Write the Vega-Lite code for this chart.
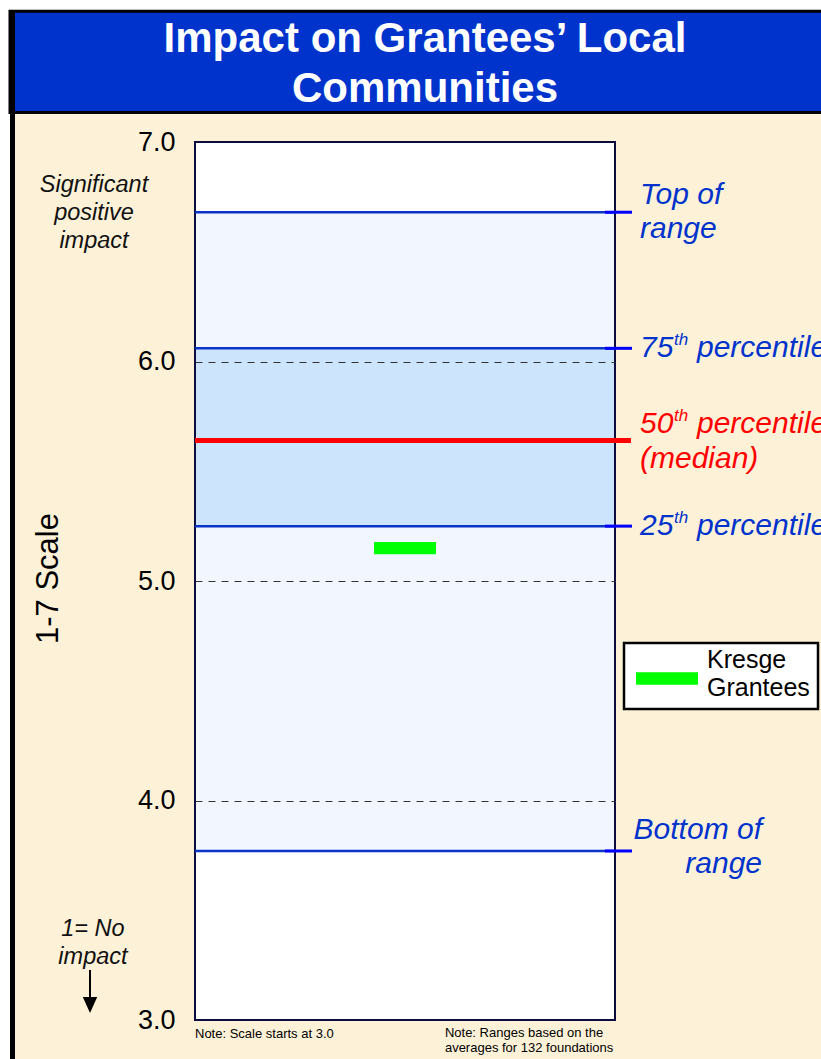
{
  "$schema": "https://vega.github.io/schema/vega-lite/v6.json",
  "width": 420,
  "height": 878,
  "autosize": "none",
  "padding": {"left": 195, "top": 142, "right": 206, "bottom": 39},
  "background": "white",
  "config": {
    "font": "Liberation Sans",
    "view": {"stroke": null},
    "legend": {"strokeWidth": 2.5}
  },
  "title": {
    "text": ["Impact on Grantees’ Local", "Communities"],
    "color": "white",
    "fontSize": 42,
    "fontWeight": "bold",
    "lineHeight": 50,
    "anchor": "middle",
    "frame": "group",
    "baseline": "alphabetic",
    "offset": 0,
    "dy": 136,
    "dx": 20
  },
  "datasets": {
    "lines": [
      {"stat": "top", "name": "Top of range", "value": 6.68, "label": "Top of|range"},
      {"stat": "p75", "name": "75th percentile", "value": 6.06, "num": "75", "sup": "th", "word": "percentile"},
      {"stat": "median", "name": "50th percentile (median)", "value": 5.64, "num": "50", "sup": "th", "word": "percentile", "note": "(median)"},
      {"stat": "p25", "name": "25th percentile", "value": 5.25, "num": "25", "sup": "th", "word": "percentile"},
      {"stat": "bottom", "name": "Bottom of range", "value": 3.77, "label": "Bottom of|range"}
    ],
    "bands": [
      {"band": "Range", "low": 3.77, "high": 6.68},
      {"band": "Interquartile", "low": 5.25, "high": 6.06}
    ],
    "kresge": [
      {"group": "Kresge Grantees", "score": 5.15}
    ]
  },
  "layer": [
    {
      "data": {"values": [{"part": "slide"}]},
      "mark": {"type": "rect", "fill": "#fdf2d8"},
      "encoding": {
        "x": {"datum": -0.4405, "type": "quantitative", "scale": {"domain": [0, 1], "nice": false, "zero": false}, "axis": null},
        "x2": {"datum": 1.6},
        "y": {"datum": 7.6, "type": "quantitative", "scale": {"domain": [3, 7], "nice": false, "zero": false},
          "axis": {
            "values": [3, 4, 5, 6, 7],
            "format": ".1f",
            "labelFontSize": 27,
            "labelColor": "black",
            "labelPadding": 20,
            "ticks": false,
            "domain": false,
            "grid": true,
            "gridColor": "#333333",
            "gridDash": [7, 6],
            "gridWidth": 1,
            "gridOpacity": {"condition": {"test": "datum.value === 3 || datum.value === 7", "value": 0}, "value": 1},
            "zindex": 1,
            "title": "1-7 Scale",
            "titleFontSize": 31,
            "titleFontWeight": "normal",
            "titleColor": "black",
            "titleAngle": 270,
            "titleAlign": "center",
            "titleBaseline": "middle",
            "titleX": -147,
            "titleY": 436
          }
        },
        "y2": {"datum": 2.7}
      }
    },
    {
      "data": {"values": [{"part": "header"}]},
      "mark": {"type": "rect", "fill": "#0033cc", "stroke": "black", "strokeWidth": 3},
      "encoding": {
        "x": {"datum": -0.4405, "type": "quantitative"},
        "x2": {"datum": 1.6},
        "y": {"datum": 7.596, "type": "quantitative"},
        "y2": {"datum": 7.134}
      }
    },
    {
      "data": {"values": [{"part": "left border"}]},
      "mark": {"type": "rule", "color": "black", "strokeWidth": 5},
      "encoding": {
        "x": {"datum": -0.4345, "type": "quantitative"},
        "y": {"datum": 7.6, "type": "quantitative"},
        "y2": {"datum": 2.7}
      }
    },
    {
      "data": {"values": [{"part": "plot"}]},
      "mark": {"type": "rect", "fill": "white"},
      "encoding": {
        "x": {"datum": 0, "type": "quantitative"},
        "x2": {"datum": 1},
        "y": {"datum": 3, "type": "quantitative"},
        "y2": {"datum": 7}
      }
    },
    {
      "data": {"name": "bands"},
      "mark": {"type": "rect"},
      "encoding": {
        "x": {"datum": 0, "type": "quantitative"},
        "x2": {"datum": 1},
        "y": {"field": "low", "type": "quantitative"},
        "y2": {"field": "high"},
        "fill": {"condition": {"test": "datum.band === 'Range'", "value": "#f2f7ff"}, "value": "#cce4fc"}
      }
    },
    {
      "data": {"values": [{"part": "frame"}]},
      "mark": {"type": "rect", "fillOpacity": 0, "stroke": "#0b0b40", "strokeWidth": 2},
      "encoding": {
        "x": {"datum": 0, "type": "quantitative"},
        "x2": {"datum": 1},
        "y": {"datum": 3, "type": "quantitative"},
        "y2": {"datum": 7}
      }
    },
    {
      "data": {"name": "lines"},
      "transform": [{"filter": "datum.stat !== 'median'"}],
      "mark": {"type": "rule", "color": "#0a33c8", "strokeWidth": 2.5},
      "encoding": {
        "x": {"datum": 0, "type": "quantitative"},
        "x2": {"datum": 1},
        "y": {"field": "value", "type": "quantitative"}
      }
    },
    {
      "data": {"name": "lines"},
      "transform": [{"filter": "datum.stat !== 'median'"}],
      "mark": {"type": "rule", "color": "#0000ff", "strokeWidth": 3},
      "encoding": {
        "x": {"datum": 0.976, "type": "quantitative"},
        "x2": {"datum": 1.0405},
        "y": {"field": "value", "type": "quantitative"}
      }
    },
    {
      "data": {"name": "lines"},
      "transform": [{"filter": "datum.stat === 'median'"}],
      "mark": {"type": "rule", "color": "#ff0000", "strokeWidth": 5},
      "encoding": {
        "x": {"datum": 0, "type": "quantitative"},
        "x2": {"datum": 1.038},
        "y": {"field": "value", "type": "quantitative"}
      }
    },
    {
      "data": {"name": "kresge"},
      "mark": {"type": "point", "shape": "M-2,-0.4H2V0.4H-2Z", "size": 961, "filled": true, "opacity": 1, "strokeWidth": 0},
      "encoding": {
        "x": {"datum": 0.5, "type": "quantitative"},
        "y": {"field": "score", "type": "quantitative"},
        "color": {
          "field": "group",
          "type": "nominal",
          "scale": {"domain": ["Kresge Grantees"], "range": ["#00ff00"]},
          "legend": {
            "title": null,
            "orient": "none",
            "legendX": 429,
            "legendY": 501,
            "fillColor": "white",
            "strokeColor": "black",
            "padding": 8,
            "symbolType": "M-2,0.374H2V1.174H-2Z",
            "symbolSize": 961,
            "symbolStrokeWidth": 0,
            "symbolOffset": 19.5,
            "labelFontSize": 25,
            "labelColor": "black",
            "labelOffset": 24.5,
            "labelLimit": 0,
            "labelExpr": "split(datum.label, ' ')",
            "labelBaseline": "middle",
            "encoding": {"labels": {"dy": {"value": -7}, "lineHeight": {"value": 28}}}
          }
        }
      }
    },
    {
      "data": {"name": "lines"},
      "transform": [{"filter": "datum.stat === 'top'"}],
      "mark": {"type": "text", "align": "left", "baseline": "middle", "fontSize": 30, "fontStyle": "italic", "color": "#0033cc", "lineBreak": "|", "lineHeight": 34, "dy": -17},
      "encoding": {
        "x": {"datum": 1.0595, "type": "quantitative"},
        "y": {"field": "value", "type": "quantitative"},
        "text": {"field": "label"}
      }
    },
    {
      "data": {"name": "lines"},
      "transform": [{"filter": "datum.stat === 'bottom'"}],
      "mark": {"type": "text", "align": "right", "baseline": "middle", "fontSize": 30, "fontStyle": "italic", "color": "#0033cc", "lineBreak": "|", "lineHeight": 34, "dy": -21},
      "encoding": {
        "x": {"datum": 1.35, "type": "quantitative"},
        "y": {"field": "value", "type": "quantitative"},
        "text": {"field": "label"}
      }
    },
    {
      "data": {"name": "lines"},
      "transform": [{"filter": "datum.stat === 'p75' || datum.stat === 'p25'"}],
      "mark": {"type": "text", "align": "left", "baseline": "middle", "fontSize": 30, "fontStyle": "italic", "color": "#0033cc"},
      "encoding": {
        "x": {"datum": 1.0595, "type": "quantitative"},
        "y": {"field": "value", "type": "quantitative"},
        "text": {"field": "num"}
      }
    },
    {
      "data": {"name": "lines"},
      "transform": [{"filter": "datum.stat === 'p75' || datum.stat === 'p25'"}],
      "mark": {"type": "text", "align": "left", "baseline": "middle", "fontSize": 17, "fontStyle": "italic", "color": "#0033cc", "dx": 34, "dy": -8},
      "encoding": {
        "x": {"datum": 1.0595, "type": "quantitative"},
        "y": {"field": "value", "type": "quantitative"},
        "text": {"field": "sup"}
      }
    },
    {
      "data": {"name": "lines"},
      "transform": [{"filter": "datum.stat === 'p75' || datum.stat === 'p25'"}],
      "mark": {"type": "text", "align": "left", "baseline": "middle", "fontSize": 30, "fontStyle": "italic", "color": "#0033cc", "dx": 57},
      "encoding": {
        "x": {"datum": 1.0595, "type": "quantitative"},
        "y": {"field": "value", "type": "quantitative"},
        "text": {"field": "word"}
      }
    },
    {
      "data": {"name": "lines"},
      "transform": [{"filter": "datum.stat === 'median'"}],
      "mark": {"type": "text", "align": "left", "baseline": "middle", "fontSize": 30, "fontStyle": "italic", "color": "#ff0000", "dy": -17},
      "encoding": {
        "x": {"datum": 1.0595, "type": "quantitative"},
        "y": {"field": "value", "type": "quantitative"},
        "text": {"field": "num"}
      }
    },
    {
      "data": {"name": "lines"},
      "transform": [{"filter": "datum.stat === 'median'"}],
      "mark": {"type": "text", "align": "left", "baseline": "middle", "fontSize": 17, "fontStyle": "italic", "color": "#ff0000", "dx": 34, "dy": -25},
      "encoding": {
        "x": {"datum": 1.0595, "type": "quantitative"},
        "y": {"field": "value", "type": "quantitative"},
        "text": {"field": "sup"}
      }
    },
    {
      "data": {"name": "lines"},
      "transform": [{"filter": "datum.stat === 'median'"}],
      "mark": {"type": "text", "align": "left", "baseline": "middle", "fontSize": 30, "fontStyle": "italic", "color": "#ff0000", "dx": 57, "dy": -17},
      "encoding": {
        "x": {"datum": 1.0595, "type": "quantitative"},
        "y": {"field": "value", "type": "quantitative"},
        "text": {"field": "word"}
      }
    },
    {
      "data": {"name": "lines"},
      "transform": [{"filter": "datum.stat === 'median'"}],
      "mark": {"type": "text", "align": "left", "baseline": "middle", "fontSize": 30, "fontStyle": "italic", "color": "#ff0000", "dy": 18},
      "encoding": {
        "x": {"datum": 1.0595, "type": "quantitative"},
        "y": {"field": "value", "type": "quantitative"},
        "text": {"field": "note"}
      }
    },
    {
      "data": {"values": [{"note": "Significant|positive|impact"}]},
      "mark": {"type": "text", "align": "center", "baseline": "middle", "fontSize": 23.5, "fontStyle": "italic", "color": "#111111", "lineBreak": "|", "lineHeight": 28, "dy": -28},
      "encoding": {
        "x": {"datum": -0.2405, "type": "quantitative"},
        "y": {"datum": 6.677, "type": "quantitative"},
        "text": {"field": "note"}
      }
    },
    {
      "data": {"values": [{"note": "1= No|impact"}]},
      "mark": {"type": "text", "align": "center", "baseline": "middle", "fontSize": 23.5, "fontStyle": "italic", "color": "#111111", "lineBreak": "|", "lineHeight": 28, "dy": -14},
      "encoding": {
        "x": {"datum": -0.2429, "type": "quantitative"},
        "y": {"datum": 3.353, "type": "quantitative"},
        "text": {"field": "note"}
      }
    },
    {
      "data": {"values": [{"part": "arrow shaft"}]},
      "mark": {"type": "rule", "color": "black", "strokeWidth": 2},
      "encoding": {
        "x": {"datum": -0.25, "type": "quantitative"},
        "y": {"datum": 3.228, "type": "quantitative"},
        "y2": {"datum": 3.09}
      }
    },
    {
      "data": {"values": [{"part": "arrow head"}]},
      "mark": {"type": "point", "shape": "M0,1L-0.9,-1L0.9,-1Z", "size": 256, "filled": true, "color": "black", "opacity": 1},
      "encoding": {
        "x": {"datum": -0.25, "type": "quantitative"},
        "y": {"datum": 3.0683, "type": "quantitative"}
      }
    },
    {
      "data": {"values": [{"note": "Note: Scale starts at 3.0"}]},
      "mark": {"type": "text", "align": "left", "baseline": "middle", "fontSize": 13, "color": "black", "dy": 14},
      "encoding": {
        "x": {"datum": 0, "type": "quantitative"},
        "y": {"datum": 3, "type": "quantitative"},
        "text": {"field": "note"}
      }
    },
    {
      "data": {"values": [{"note": "Note: Ranges based on the|averages for 132 foundations"}]},
      "mark": {"type": "text", "align": "left", "baseline": "middle", "fontSize": 13, "color": "black", "dy": 13, "lineBreak": "|", "lineHeight": 15},
      "encoding": {
        "x": {"datum": 0.595, "type": "quantitative"},
        "y": {"datum": 3, "type": "quantitative"},
        "text": {"field": "note"}
      }
    }
  ]
}
